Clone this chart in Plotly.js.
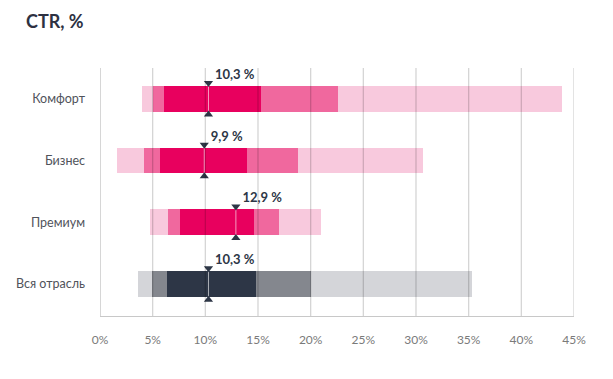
<!DOCTYPE html>
<html><head><meta charset="utf-8">
<script src="https://cdn.plot.ly/plotly-3.0.1.min.js"></script>
<style>body{margin:0;background:#fff}#c{width:613px;height:379px}</style>
</head><body><div id="c"></div>
<script>
const categories = ["Вся отрасль", "Премиум", "Бизнес", "Комфорт"];
const minVals  = [3.6, 4.75, 1.65, 3.95];
const q10Vals  = [4.9, 6.45, 4.2, 5.0];
const q25Vals  = [6.4, 7.6, 5.7, 6.07];
const q75Vals  = [14.8, 14.6, 14.0, 15.3];
const q90Vals  = [20.0, 17.0, 18.8, 22.6];
const maxVals  = [35.3, 21.0, 30.7, 43.9];
const medians  = [10.3, 12.9, 9.9, 10.3];
const medianLabels = ["10,3 %", "12,9 %", "9,9 %", "10,3 %"];
const tickVals = [0,5,10,15,20,25,30,35,40,45];
const tickText = ["0%","5%","10%","15%","20%","25%","30%","35%","40%","45%"];

const pink = {light:"#f8c9dd", mid:"#f0689e", dark:"#e8005e"};
const grey = {light:"#d4d5d9", mid:"#84878e", dark:"#2d3646"};
const pal = i => (i === 0 ? grey : pink);
const ys = categories.map((c,i)=>i);
const BW = 0.42;

function barTrace(lo, hi, key){
  return {type:"bar", orientation:"h", y:ys, base:lo, x:hi.map((v,i)=>v-lo[i]),
    width:BW, marker:{color:ys.map(i=>pal(i)[key]), line:{width:0}},
    hoverinfo:"skip", showlegend:false};
}
const traces = [
  barTrace(minVals, maxVals, "light"),
  barTrace(q10Vals, q90Vals, "mid"),
  barTrace(q25Vals, q75Vals, "dark")
];
const mx=[], my=[];
ys.forEach(i=>{ mx.push(medians[i],medians[i],null); my.push(i-BW/2,i+BW/2,null); });
traces.push({type:"scatter", mode:"lines", x:mx, y:my, line:{color:"rgba(255,255,255,0.6)", width:1}, hoverinfo:"skip", showlegend:false});
traces.push({type:"scatter", mode:"markers", x:medians, y:ys.map(i=>i+0.255), marker:{symbol:"triangle-down", size:8, color:"#2d3646"}, hoverinfo:"skip", showlegend:false, cliponaxis:false});
traces.push({type:"scatter", mode:"markers", x:medians, y:ys.map(i=>i-0.255), marker:{symbol:"triangle-up", size:8, color:"#2d3646"}, hoverinfo:"skip", showlegend:false, cliponaxis:false});
traces.push({type:"scatter", mode:"text", x:medians, y:ys.map(i=>i+0.375), text:medianLabels.map(t=>"\u2002"+t), textposition:"middle right",
  textfont:{family:"Lato, sans-serif", size:13, color:"#2d3646", weight:700}, hoverinfo:"skip", showlegend:false, cliponaxis:false});

const shapes = tickVals.map(v=>({type:"line", xref:"x", yref:"paper", x0:v, x1:v, y0:0, y1:1, layer:"above",
  line:{color: v===0 ? "rgba(0,0,0,0.25)" : "rgba(0,0,0,0.17)", width:1.3}}));

const layout = {
  width:613, height:379, margin:{l:100, r:39, t:68, b:63},
  paper_bgcolor:"#fff", plot_bgcolor:"#fff",
  barmode:"overlay", bargap:0,
  title:{text:"<b>CTR, %</b>", x:26/613, xanchor:"left", y:1-22/379, yanchor:"middle",
    font:{family:"Lato, sans-serif", size:18, color:"#2d3142"}},
  xaxis:{range:[0,45], tickvals:tickVals, ticktext:tickText, showgrid:false, zeroline:false,
    showline:true, linecolor:"#c8c8c8", linewidth:1.3, ticks:"", ticklabelstandoff:12,
    tickfont:{family:"Lato, sans-serif", size:12, color:"#7a7a7a"}, fixedrange:true},
  yaxis:{range:[-0.52,3.5], tickvals:ys, ticktext:categories, showgrid:false, zeroline:false,
    showline:false, ticks:"", ticklabelstandoff:14,
    tickfont:{family:"Lato, sans-serif", size:12.5, color:"#50535b"}, fixedrange:true},
  shapes:shapes, showlegend:false
};
Plotly.newPlot("c", traces, layout, {displayModeBar:false, staticPlot:true});
</script></body></html>
